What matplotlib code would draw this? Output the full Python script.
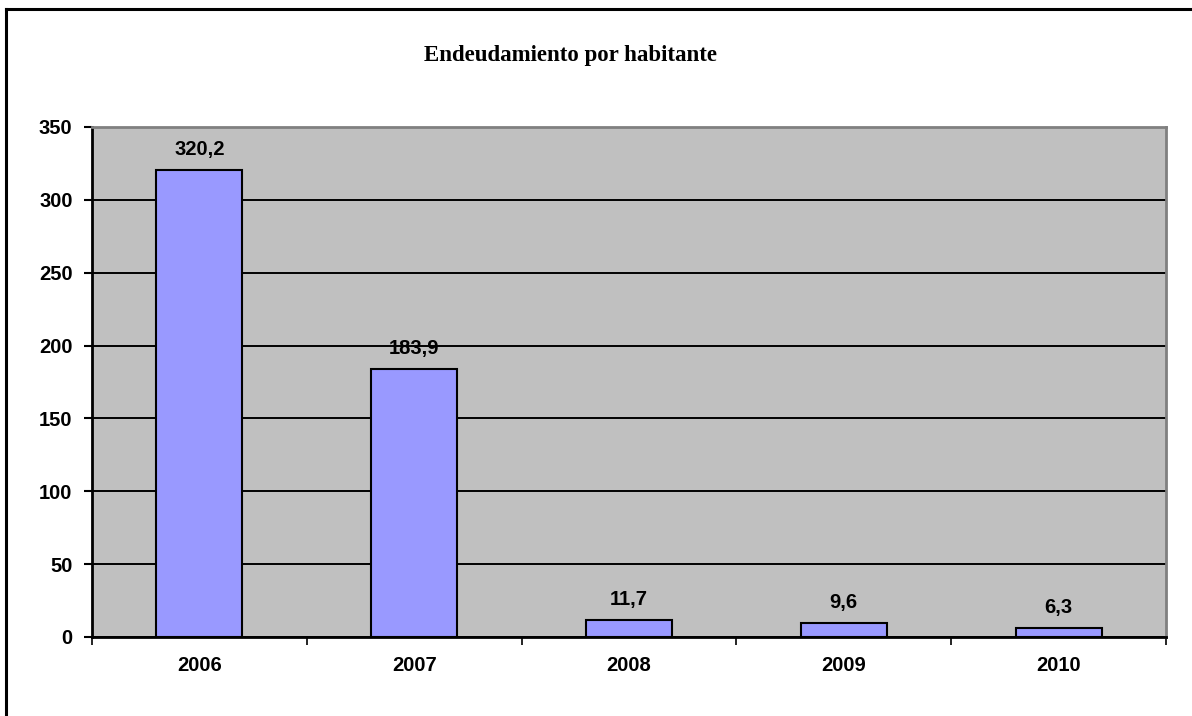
import matplotlib
matplotlib.use('Agg')
import matplotlib.pyplot as plt
from matplotlib.lines import Line2D
import numpy as np

years = ['2006', '2007', '2008', '2009', '2010']
values = [320.2, 183.9, 11.7, 9.6, 6.3]
value_labels = ['320,2', '183,9', '11,7', '9,6', '6,3']
y_ticks = [0, 50, 100, 150, 200, 250, 300, 350]

W, H = 1192, 716
fig = plt.figure(figsize=(W / 100, H / 100), dpi=100)
fig.patch.set_facecolor('white')

# outer chart border (only left and top visible in the crop)
fig.add_artist(Line2D([5.5 / W, 5.5 / W], [0, 1 - 8.5 / H], transform=fig.transFigure,
                      color='black', lw=2.2))
fig.add_artist(Line2D([5.5 / W, 1], [1 - 8.5 / H, 1 - 8.5 / H], transform=fig.transFigure,
                      color='black', lw=2.2))

ax = fig.add_axes([92 / W, 1 - 637 / H, (1166 - 92) / W, (637 - 127) / H])
ax.set_facecolor('#C0C0C0')

x = np.arange(len(years))
ax.bar(x, values, width=0.4, color='#9999FF', edgecolor='black', linewidth=1.5, zorder=3)

for xi, v, lab in zip(x, values, value_labels):
    ax.annotate(lab, (xi, v), xytext=(0, 15), textcoords='offset pixels',
                ha='center', va='baseline', fontsize=14.5, fontweight='bold',
                family='Liberation Sans')

ax.set_xlim(-0.5, len(years) - 0.5)
ax.set_ylim(0, 350)
ax.set_yticks(y_ticks)
ax.set_yticklabels([str(t) for t in y_ticks], fontsize=14.5, fontweight='bold',
                   family='Liberation Sans')
ax.yaxis.grid(True, color='black', lw=1.4, zorder=1)
ax.set_axisbelow(True)

ax.set_xticks(x)
ax.set_xticklabels(years, fontsize=14.5, fontweight='bold', family='Liberation Sans')
ax.set_xticks(np.arange(len(years) + 1) - 0.5, minor=True)
ax.tick_params(axis='x', which='major', length=0, pad=14)
ax.tick_params(axis='x', which='minor', length=6, width=1.2, direction='out')
ax.tick_params(axis='y', length=6, width=1.5, direction='out', pad=8)

for s in ['left', 'bottom']:
    ax.spines[s].set_color('black')
    ax.spines[s].set_linewidth(2)
for s in ['top', 'right']:
    ax.spines[s].set_color('#808080')
    ax.spines[s].set_linewidth(2)

fig.text(571 / W, 1 - 55 / H, 'Endeudamiento por habitante', ha='center', va='center',
         fontsize=16.5, fontweight='bold', family='Liberation Serif')

fig.savefig('out.png', dpi=100)
